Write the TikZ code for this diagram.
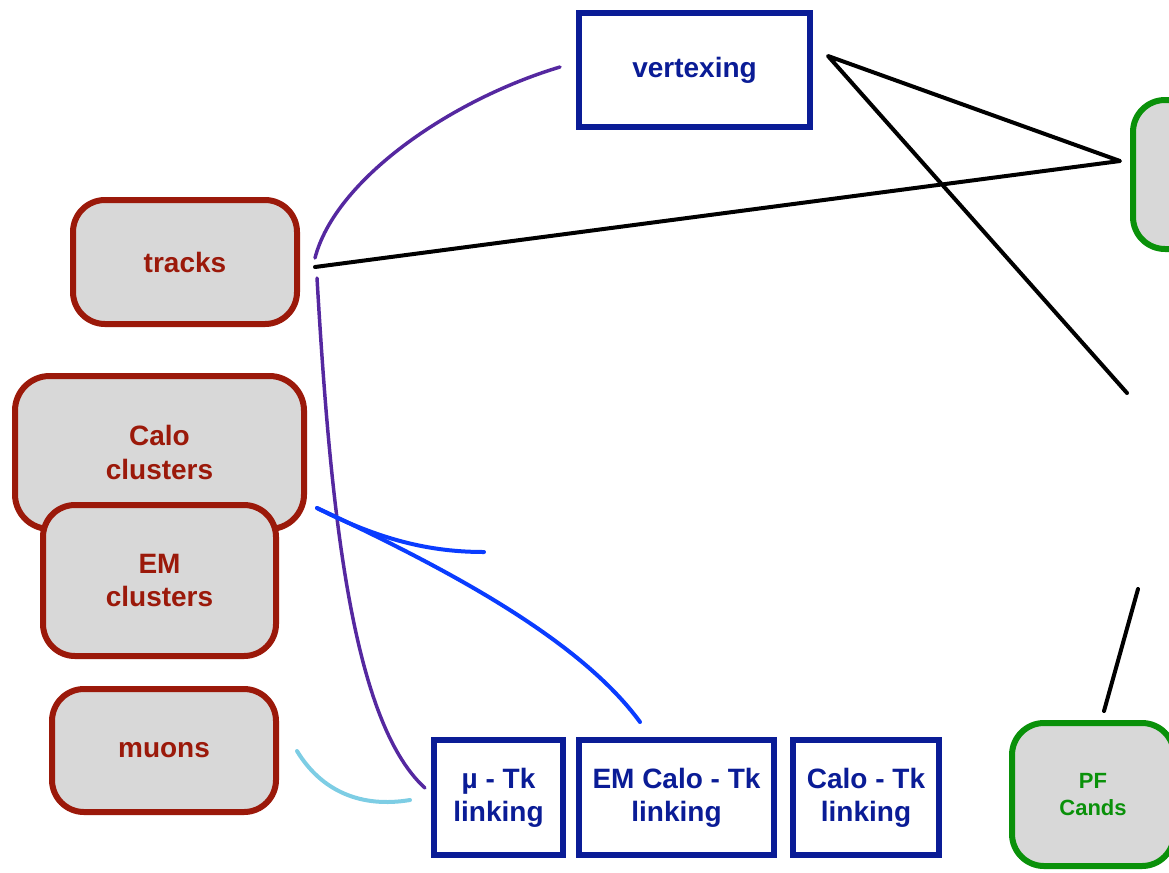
\documentclass[tikz,border=0pt]{standalone}
\usepackage{fontspec}
\setmainfont{Liberation Sans}
\definecolor{dred}{RGB}{155,25,10}
\definecolor{navy}{RGB}{10,28,150}
\definecolor{pfgreen}{RGB}{10,145,10}
\definecolor{boxgrey}{RGB}{216,216,216}
\definecolor{purp}{RGB}{85,40,160}
\definecolor{bline}{RGB}{10,60,255}
\definecolor{lblue}{RGB}{125,205,228}
\tikzset{
  inbox/.style={draw=dred, fill=boxgrey, line width=4.5pt, rounded corners=24pt,
    text=dred, font=\fontsize{21}{25}\selectfont\bfseries, align=center, inner sep=0pt},
  algbox/.style={draw=navy, fill=white, line width=4.5pt,
    text=navy, font=\fontsize{21}{25}\selectfont\bfseries, align=center, inner sep=0pt},
  outbox/.style={draw=pfgreen, fill=boxgrey, line width=4.5pt, rounded corners=24pt,
    text=pfgreen, font=\fontsize{16.5}{20}\selectfont\bfseries, align=center, inner sep=0pt},
  conn/.style={line width=3pt, line cap=round, line join=round},
}
\begin{document}
\begin{tikzpicture}[x=0.75pt,y=-0.75pt]
\useasboundingbox (0,0) rectangle (1169,872);
\clip (0,0) rectangle (1169,872);
% input boxes
\node[inbox, minimum width=168pt, minimum height=93pt] (tracks) at (185,262) {tracks};
\node[inbox, minimum width=216.75pt, minimum height=114.75pt, rounded corners=26pt] (calo) at (159.5,452.5) {Calo\\clusters};
\node[inbox, minimum width=174.75pt, minimum height=113.25pt] (em) at (159.5,580.5) {EM\\clusters};
\node[inbox, minimum width=168pt, minimum height=92.25pt] (muons) at (164,750.5) {muons};
% algorithm boxes
\node[algbox, minimum width=173.25pt, minimum height=85.5pt] (vtx) at (694.5,70) {vertexing};
\node[algbox, minimum width=96.75pt, minimum height=86.25pt] (mutk) at (498.5,797.5) {µ - Tk\\linking};
\node[algbox, minimum width=146.25pt, minimum height=86.25pt] (emtk) at (676.5,797.5) {EM Calo - Tk\\linking};
\node[algbox, minimum width=109.5pt, minimum height=86.25pt] (calotk) at (866,797.5) {Calo - Tk\\linking};
% output boxes
\node[outbox, minimum width=121.5pt, minimum height=107.25pt] (pf) at (1093,794.5) {PF\\Cands};
\node[outbox, minimum width=85.5pt, minimum height=111.75pt] (out2) at (1190,174.5) {};
% connector end points
\coordinate (trkE) at (315,267);
\coordinate (trkEa) at (315,258);
\coordinate (trkEb) at (317,278);
\coordinate (vtxW) at (560,67);
\coordinate (vtxE) at (828,56);
\coordinate (out2W) at (1120,161);
\coordinate (fadeA) at (1127,393);
\coordinate (fadeB) at (1138,589);
\coordinate (pfN) at (1104,711);
\coordinate (caloE) at (317,508);
\coordinate (blueEnd) at (484,552);
\coordinate (emtkN) at (640,722);
\coordinate (mutkW) at (425,788);
\coordinate (muonsE) at (297,751);
\coordinate (mutkWb) at (410,800);
% black lines
\draw[conn, black] (trkE) -- (out2W) -- (vtxE) -- (fadeA);
\draw[conn, black] (fadeB) -- (pfN);
% purple
\draw[conn, purp, line width=2.6pt] (vtxW) .. controls (450,100) and (335,180) .. (trkEa);
\draw[conn, purp, line width=2.6pt] (trkEb) .. controls (330,500) and (350,720) .. (mutkW);
% blue
\draw[conn, bline] (caloE) .. controls (450,570) and (580,640) .. (emtkN);
\draw[conn, bline] (caloE) .. controls (380,540) and (430,552) .. (blueEnd);
% light blue
\draw[conn, lblue] (muonsE) .. controls (322,792) and (362,808) .. (mutkWb);
\end{tikzpicture}
\end{document}
